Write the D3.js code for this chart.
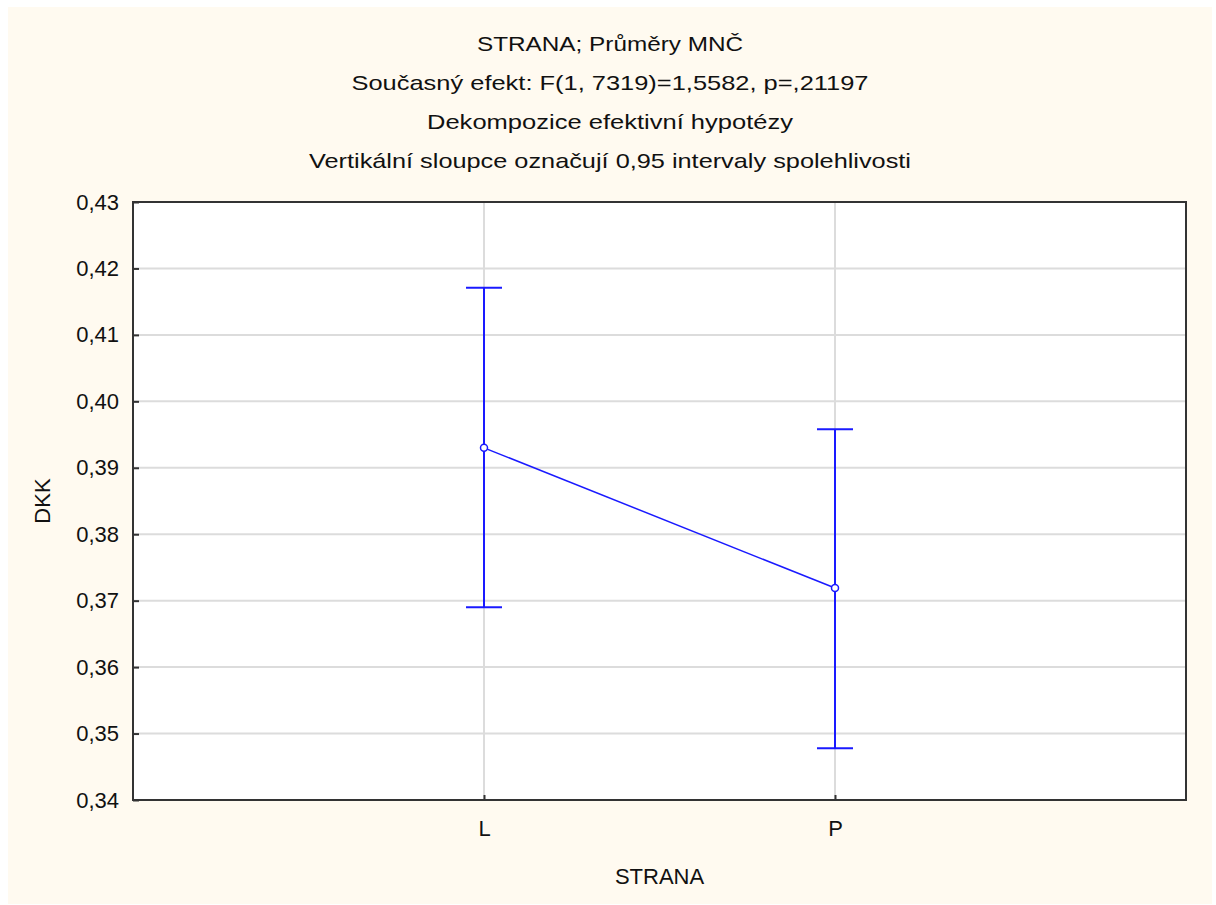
<!DOCTYPE html>
<html lang="cs">
<head>
<meta charset="utf-8">
<title>STRANA; Průměry MNČ</title>
<script src="https://d3js.org/d3.v7.min.js"></script>
<style>
  body { margin: 0; background: #fff; }
  text { font-family: "Liberation Sans", Arial, sans-serif; fill: #111; }
</style>
</head>
<body>
<script>
// data
var categories = ["L", "P"];
var means = [0.3930, 0.3719];
var lower = [0.3690, 0.3478];
var upper = [0.4171, 0.3958];
var yTicks = [0.34, 0.35, 0.36, 0.37, 0.38, 0.39, 0.40, 0.41, 0.42, 0.43];
var titles = [
  "STRANA; Průměry MNČ",
  "Současný efekt: F(1, 7319)=1,5582, p=,21197",
  "Dekompozice efektivní hypotézy",
  "Vertikální sloupce označují 0,95 intervaly spolehlivosti"
];
var titleWidths = [266, 517, 366, 602];

var width = 1216, height = 905;
var plot = { left: 133, top: 202, right: 1186, bottom: 800 };

var svg = d3.select("body").append("svg")
  .attr("width", width)
  .attr("height", height);

// cream backdrop
svg.append("rect")
  .attr("x", 8).attr("y", 7)
  .attr("width", 1204).attr("height", 897)
  .attr("fill", "#fffaf0");

var x = d3.scalePoint()
  .domain(categories)
  .range([plot.left, plot.right])
  .padding(1);

var y = d3.scaleLinear()
  .domain([0.34, 0.43])
  .range([plot.bottom, plot.top]);

// plot area
svg.append("rect")
  .attr("x", plot.left).attr("y", plot.top)
  .attr("width", plot.right - plot.left)
  .attr("height", plot.bottom - plot.top)
  .attr("fill", "#fff");

// grid lines
svg.append("g").selectAll("line.h")
  .data(yTicks.slice(1, -1))
  .enter().append("line")
  .attr("x1", plot.left).attr("x2", plot.right)
  .attr("y1", function(d) { return y(d); })
  .attr("y2", function(d) { return y(d); })
  .attr("stroke", "#dcdcdc")
  .attr("stroke-width", 2);

svg.append("g").selectAll("line.v")
  .data(categories)
  .enter().append("line")
  .attr("x1", function(d) { return x(d); })
  .attr("x2", function(d) { return x(d); })
  .attr("y1", plot.top).attr("y2", plot.bottom)
  .attr("stroke", "#dcdcdc")
  .attr("stroke-width", 2);

// axes
var yAxis = d3.axisLeft(y)
  .tickValues(yTicks)
  .tickSize(-6)
  .tickPadding(14)
  .tickFormat(function(d) { return d3.format(".2f")(d).replace(".", ","); });

var gy = svg.append("g")
  .attr("transform", "translate(" + plot.left + ",0)")
  .call(yAxis);
gy.select(".domain").remove();
gy.selectAll(".tick line").attr("stroke", "#333").attr("stroke-width", 2);
gy.selectAll(".tick text")
  .style("font-size", "22px")
  .attr("fill", "#1a1a2e");

var xAxis = d3.axisBottom(x)
  .tickSize(-5)
  .tickPadding(20);

var gx = svg.append("g")
  .attr("transform", "translate(0," + plot.bottom + ")")
  .call(xAxis);
gx.select(".domain").remove();
gx.selectAll(".tick line").attr("stroke", "#333").attr("stroke-width", 2);
gx.selectAll(".tick text")
  .style("font-size", "22px")
  .attr("fill", "#1a1a2e");

// frame
svg.append("rect")
  .attr("x", plot.left).attr("y", plot.top)
  .attr("width", plot.right - plot.left)
  .attr("height", plot.bottom - plot.top)
  .attr("fill", "none")
  .attr("stroke", "#333")
  .attr("stroke-width", 2);

// error bars
var blue = "#1a1aff";
var bars = svg.append("g").selectAll("g")
  .data(categories)
  .enter().append("g");

bars.append("line")
  .attr("x1", function(d) { return x(d); })
  .attr("x2", function(d) { return x(d); })
  .attr("y1", function(d, i) { return y(upper[i]); })
  .attr("y2", function(d, i) { return y(lower[i]); })
  .attr("stroke", blue).attr("stroke-width", 2);

bars.append("line")
  .attr("x1", function(d) { return x(d) - 18; })
  .attr("x2", function(d) { return x(d) + 18; })
  .attr("y1", function(d, i) { return y(upper[i]); })
  .attr("y2", function(d, i) { return y(upper[i]); })
  .attr("stroke", blue).attr("stroke-width", 2);

bars.append("line")
  .attr("x1", function(d) { return x(d) - 18; })
  .attr("x2", function(d) { return x(d) + 18; })
  .attr("y1", function(d, i) { return y(lower[i]); })
  .attr("y2", function(d, i) { return y(lower[i]); })
  .attr("stroke", blue).attr("stroke-width", 2);

// mean line and markers
var line = d3.line()
  .x(function(d, i) { return x(categories[i]); })
  .y(function(d) { return y(d); });

svg.append("path")
  .datum(means)
  .attr("d", line)
  .attr("fill", "none")
  .attr("stroke", blue)
  .attr("stroke-width", 1.5);

svg.append("g").selectAll("circle")
  .data(means)
  .enter().append("circle")
  .attr("cx", function(d, i) { return x(categories[i]); })
  .attr("cy", function(d) { return y(d); })
  .attr("r", 3.5)
  .attr("fill", "#fff")
  .attr("stroke", blue)
  .attr("stroke-width", 1.5);

// titles
svg.append("g").selectAll("text")
  .data(titles)
  .enter().append("text")
  .attr("x", 610)
  .attr("y", function(d, i) { return 51 + i * 39; })
  .attr("text-anchor", "middle")
  .attr("textLength", function(d, i) { return titleWidths[i]; })
  .attr("lengthAdjust", "spacingAndGlyphs")
  .style("font-size", "21px")
  .text(function(d) { return d; });

// axis titles
svg.append("text")
  .attr("x", (plot.left + plot.right) / 2)
  .attr("y", 884)
  .attr("text-anchor", "middle")
  .style("font-size", "22px")
  .text("STRANA");

svg.append("text")
  .attr("transform", "translate(50," + (plot.top + plot.bottom) / 2 + ") rotate(-90)")
  .attr("text-anchor", "middle")
  .style("font-size", "22px")
  .text("DKK");
</script>
</body>
</html>
